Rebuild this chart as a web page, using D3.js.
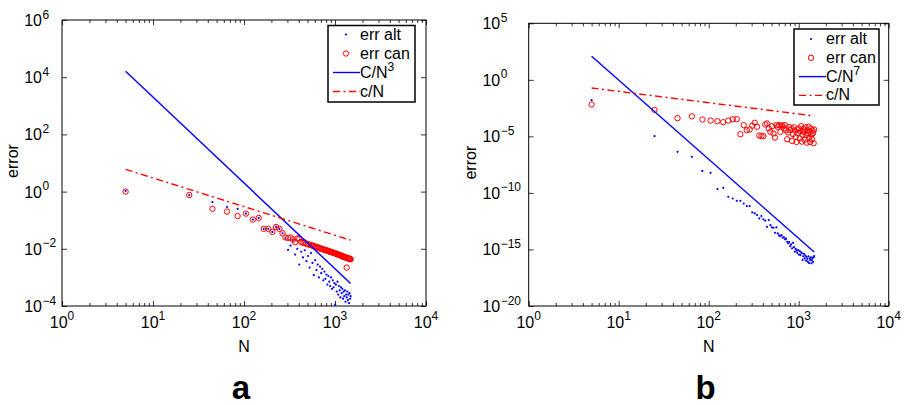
<!DOCTYPE html>
<html>
<head>
<meta charset="utf-8">
<script src="https://cdn.jsdelivr.net/npm/d3@7"></script>
<style>
  body { margin: 0; background: #fff; }
  svg text { font-family: "Liberation Sans", Arial, Helvetica, sans-serif; fill: #000; }
</style>
</head>
<body>
<div id="chart"></div>
<script>
// sample sizes (same for both panels)
var nValues = [5, 25, 45, 65, 85, 105, 125, 145, 165, 185, 205, 225, 245, 265, 285, 305, 325, 345, 365, 385,
  405, 425, 445, 465, 485, 505, 525, 545, 565, 585, 605, 625, 645, 665, 685, 705, 725, 745, 765, 785,
  805, 825, 845, 865, 885, 905, 925, 945, 965, 985, 1005, 1025, 1045, 1065, 1085, 1105, 1125, 1145, 1165, 1185,
  1205, 1225, 1245, 1265, 1285, 1305, 1325, 1345, 1365, 1385, 1405, 1425, 1445, 1465, 1485];

// panel a
var altA = [1.05, 0.76, 0.43, 0.29, 0.25, 0.17, 0.105, 0.12, 0.050, 0.050,
  0.039, 0.058, 0.050, 0.035, 0.024, 0.0091, 0.0129, 0.020, 0.0063, 0.010,
  0.0028, 0.0079, 0.0050, 0.0089, 0.0037, 0.0056, 0.0022, 0.0071, 0.0032, 0.0012,
  0.0040, 0.0018, 0.0028, 0.0010, 0.0024, 0.0014, 0.0020, 7.9e-4, 1.6e-3, 8.9e-4,
  1.26e-3, 5.6e-4, 1.12e-3, 7.1e-4, 5.0e-4, 1.0e-3, 4.0e-4, 7.9e-4, 4.5e-4, 6.3e-4,
  1.12e-4, 5.6e-4, 3.2e-4, 7.1e-4, 2.5e-4, 5.0e-4, 3.5e-4, 2.0e-4, 4.5e-4, 2.8e-4,
  4.0e-4, 1.8e-4, 3.2e-4, 2.2e-4, 3.5e-4, 1.4e-4, 2.5e-4, 2.0e-4, 3.2e-4, 1.6e-4,
  2.5e-4, 1.26e-4, 2.8e-4, 1.8e-4, 2.2e-4];
var canA = [1.0, 0.76, 0.25, 0.20, 0.14, 0.17, 0.105, 0.12, 0.050, 0.050,
  0.039, 0.058, 0.050, 0.035, 0.025, 0.024, 0.025, 0.021, 0.017, 0.023,
  0.023, 0.0174, 0.0162, 0.0166, 0.0148, 0.0145, 0.0138, 0.0135, 0.0129, 0.0126,
  0.0117, 0.0117, 0.0110, 0.0110, 0.0102, 0.0102, 0.0098, 0.0095, 0.0091, 0.0091,
  0.0087, 0.0087, 0.0083, 0.0081, 0.0079, 0.0078, 0.0076, 0.0074, 0.0072, 0.0071,
  0.0069, 0.0068, 0.0066, 0.0065, 0.0063, 0.0062, 0.0060, 0.0059, 0.0058, 0.0056,
  0.0055, 0.0054, 0.0052, 0.0052, 0.0051, 0.0050, 0.0049, 0.0022, 0.0048, 0.0047,
  0.0046, 0.0045, 0.0045, 0.0044, 0.0043];
var refN = [5, 1485];
var powA = [1.6e4, 6.1e-4];   // C/N^3
var invA = [6.0, 2.0e-2];     // c/N

// panel b
var altB = [1.6e-2, 1.05e-5, 4.3e-7, 1.55e-7, 8.9e-9, 6.0e-9, 2.2e-10, 2.8e-10, 4.6e-11, 3.2e-11,
  2.0e-11, 2.0e-11, 1.15e-11, 6.8e-12, 6.8e-12, 1.9e-12, 1.55e-12, 1.1e-12, 5.6e-13, 8.9e-13,
  4.6e-13, 3.5e-13, 1.0e-13, 4.0e-13, 1.4e-13, 8.9e-14, 8.3e-14, 3.0e-14, 8.9e-14, 2.6e-14,
  1.78e-14, 1.5e-14, 1.86e-14, 1.12e-14, 1.17e-14, 7.8e-15, 8.9e-15, 4.8e-15, 3.5e-15, 4.5e-15,
  2.0e-15, 2.8e-15, 1.26e-15, 3.9e-15, 1.58e-15, 6.3e-16, 1.12e-15, 7.8e-16, 5.0e-16, 8.9e-16,
  3.5e-16, 7.2e-16, 3.2e-16, 5.6e-16, 4.6e-16, 1.15e-16, 2.5e-16, 4.0e-16, 1.6e-16, 2.8e-16,
  1.0e-16, 2.2e-16, 1.4e-16, 8.1e-17, 2.5e-16, 6.3e-17, 1.6e-16, 1.12e-16, 2.0e-16, 5.9e-17,
  1.15e-16, 1.78e-16, 7.9e-17, 2.0e-16, 2.6e-16];
var canB = [6.6e-3, 2.2e-3, 4.1e-4, 6.0e-4, 3.1e-4, 2.5e-4, 2.2e-4, 1.8e-4, 2.5e-4, 3.3e-4,
  3.3e-4, 1.55e-5, 9.8e-5, 3.5e-5, 4.1e-5, 8.9e-5, 1.6e-4, 7.1e-5, 1.2e-5, 1.05e-5,
  1.05e-5, 1.12e-4, 1.4e-4, 5.0e-5, 2.5e-5, 7.9e-5, 1.8e-5, 7.9e-6, 9.8e-5, 6.9e-5,
  9.8e-5, 2.5e-5, 9.8e-5, 7.9e-5, 5.0e-5, 9.8e-5, 3.5e-5, 5.6e-6, 2.2e-5, 6.9e-5,
  3.5e-5, 5.0e-5, 4.0e-6, 1.6e-5, 6.3e-5, 3.2e-5, 8.9e-6, 3.2e-6, 4.0e-5, 2.0e-5,
  5.0e-5, 6.3e-6, 2.8e-5, 7.9e-5, 3.5e-6, 1.4e-5, 4.5e-5, 2.5e-5, 5.0e-6, 6.3e-5,
  1.26e-5, 2.8e-6, 3.5e-5, 1.8e-5, 7.1e-5, 7.9e-6, 2.5e-5, 3.2e-6, 5.0e-5, 1.4e-5,
  5.6e-6, 3.2e-5, 2.0e-5, 2.5e-6, 4.0e-5];
var powB = [1.2e2, 5.9e-16];  // C/N^7
var invB = [1.9e-1, 6.4e-4];  // c/N

// axes
var xDecades = [0, 1, 2, 3, 4];
var yDecadesA = [-4, -2, 0, 2, 4, 6];
var yDecadesB = [-20, -15, -10, -5, 0, 5];
var legendLabels = ["err alt", "err can", "C/N", "c/N"];
var panelLabels = ["a", "b"];

(function () {
    var width = 904, height = 405;
    var fs = 16, fsExp = 12;
    var svg = d3.select("#chart").append("svg").attr("width", width).attr("height", height);

    var panels = [
        { left: 62, right: 426, top: 20, bottom: 306, yDec: yDecadesA, labelGap: 20, titleGap: 44.5,
          alt: altA, can: canA, pow: powA, inv: invA, power: "3", tag: panelLabels[0],
          legend: { x: 328, y: 25.5, w: 87, h: 76.5, lineX0: 333, textX: 360, markX: 346, base: 39.5, step: 19 } },
        { left: 528.7, right: 888.7, top: 23.3, bottom: 306, yDec: yDecadesB, labelGap: 28.5, titleGap: 52.5,
          alt: altB, can: canB, pow: powB, inv: invB, power: "7", tag: panelLabels[1],
          legend: { x: 794, y: 29, w: 85, h: 76, lineX0: 799, textX: 826, markX: 811, base: 44, step: 18.8 } }
    ];

    panels.forEach(function (p) { drawPanel(svg, p); });

    function expText(e) { return e < 0 ? "\u2212" + (-e) : "" + e; }

    function drawPanel(svg, p) {
        var x = d3.scaleLog().domain([1, 1e4]).range([p.left, p.right]);
        var y = d3.scaleLog()
            .domain([Math.pow(10, p.yDec[0]), Math.pow(10, p.yDec[p.yDec.length - 1])])
            .range([p.bottom, p.top]);
        var g = svg.append("g");

        var majorX = xDecades.map(function (e) { return Math.pow(10, e); });
        var minorX = x.ticks().filter(function (v) { return majorX.indexOf(v) < 0; });
        var majorY = p.yDec.map(function (e) { return Math.pow(10, e); });

        function ticks(axis, vals, size, tx, ty) {
            var a = g.append("g").attr("transform", "translate(" + tx + "," + ty + ")")
                .call(axis.tickValues(vals).tickSize(-size).tickFormat(""));
            a.select(".domain").remove();
            a.selectAll("line").attr("stroke", "#000").attr("stroke-width", 0.8);
        }
        ticks(d3.axisBottom(x), majorX, 5, 0, p.bottom);
        ticks(d3.axisBottom(x), minorX, 3, 0, p.bottom);
        ticks(d3.axisTop(x), majorX, 5, 0, p.top);
        ticks(d3.axisTop(x), minorX, 3, 0, p.top);
        ticks(d3.axisLeft(y), majorY, 5, p.left, 0);
        ticks(d3.axisRight(y), majorY, 5, p.right, 0);

        // data: dots first, circles, then reference lines
        var pts = d3.zip(nValues, p.alt);
        g.selectAll(".alt").data(pts).enter().append("circle")
            .attr("cx", function (d) { return x(d[0]); })
            .attr("cy", function (d) { return y(d[1]); })
            .attr("r", 1.1).attr("fill", "#0000ff");

        var cpts = d3.zip(nValues, p.can);
        g.selectAll(".can").data(cpts).enter().append("circle")
            .attr("cx", function (d) { return x(d[0]); })
            .attr("cy", function (d) { return y(d[1]); })
            .attr("r", 2.7).attr("fill", "none").attr("stroke", "#ff0000").attr("stroke-width", 1);

        var line = d3.line().x(function (d) { return x(d[0]); }).y(function (d) { return y(d[1]); });
        g.append("path").datum(d3.zip(refN, p.pow)).attr("d", line)
            .attr("fill", "none").attr("stroke", "#0000ff").attr("stroke-width", 1.4);
        g.append("path").datum(d3.zip(refN, p.inv)).attr("d", line)
            .attr("fill", "none").attr("stroke", "#ff0000").attr("stroke-width", 1.4)
            .attr("stroke-dasharray", "7,3.5,2,3.5");

        // frame
        g.append("rect").attr("x", p.left).attr("y", p.top)
            .attr("width", p.right - p.left).attr("height", p.bottom - p.top)
            .attr("fill", "none").attr("stroke", "#000").attr("stroke-width", 1);

        // tick labels
        g.selectAll(".xl").data(xDecades).enter().append("text")
            .attr("x", function (d) { return x(Math.pow(10, d)); })
            .attr("y", p.bottom + 21.5)
            .attr("text-anchor", "middle").attr("font-size", fs)
            .each(function (d) {
                var t = d3.select(this);
                t.append("tspan").text("10");
                t.append("tspan").attr("dy", -7.5).attr("font-size", fsExp).text(expText(d));
            });
        g.selectAll(".yl").data(p.yDec).enter().append("text")
            .attr("x", p.left - p.labelGap)
            .attr("y", function (d) { return y(Math.pow(10, d)) + 6; })
            .attr("text-anchor", "end").attr("font-size", fs).text("10");
        g.selectAll(".ye").data(p.yDec).enter().append("text")
            .attr("x", p.left - p.labelGap + 0.5)
            .attr("y", function (d) { return y(Math.pow(10, d)) - 1.5; })
            .attr("font-size", fsExp).text(function (d) { return expText(d); });

        // axis titles
        var cx = (p.left + p.right) / 2;
        g.append("text").attr("x", cx).attr("y", 352).attr("text-anchor", "middle")
            .attr("font-size", fs).text("N");
        var cy = (p.top + p.bottom) / 2 - 2;
        g.append("text").attr("transform", "translate(" + (p.left - p.titleGap) + "," + cy + ") rotate(-90)")
            .attr("text-anchor", "middle").attr("font-size", fs).text("error");
        g.append("text").attr("x", cx - 3).attr("y", 399).attr("text-anchor", "middle")
            .attr("font-size", 33).attr("font-weight", "bold").text(p.tag);

        // legend
        var L = p.legend;
        var lg = g.append("g");
        lg.append("rect").attr("x", L.x).attr("y", L.y).attr("width", L.w).attr("height", L.h)
            .attr("fill", "#fff").attr("stroke", "#000").attr("stroke-width", 1.5);
        legendLabels.forEach(function (lab, i) {
            var by = L.base + i * L.step;
            var t = lg.append("text").attr("x", L.textX).attr("y", by).attr("font-size", fs).text(lab);
            if (i == 2) t.append("tspan").attr("dy", -6.5).attr("font-size", fsExp).text(p.power);
        });
        lg.append("circle").attr("cx", L.markX).attr("cy", L.base - 5).attr("r", 1.1).attr("fill", "#0000ff");
        lg.append("circle").attr("cx", L.markX).attr("cy", L.base + L.step - 5).attr("r", 2.7)
            .attr("fill", "none").attr("stroke", "#ff0000");
        lg.append("line").attr("x1", L.lineX0).attr("x2", L.textX)
            .attr("y1", L.base + 2 * L.step - 5).attr("y2", L.base + 2 * L.step - 5)
            .attr("stroke", "#0000ff").attr("stroke-width", 1.4);
        lg.append("line").attr("x1", L.lineX0).attr("x2", L.textX)
            .attr("y1", L.base + 3 * L.step - 5).attr("y2", L.base + 3 * L.step - 5)
            .attr("stroke", "#ff0000").attr("stroke-width", 1.4).attr("stroke-dasharray", "7,3.5,2,3.5");
    }
})();
</script>
</body>
</html>
